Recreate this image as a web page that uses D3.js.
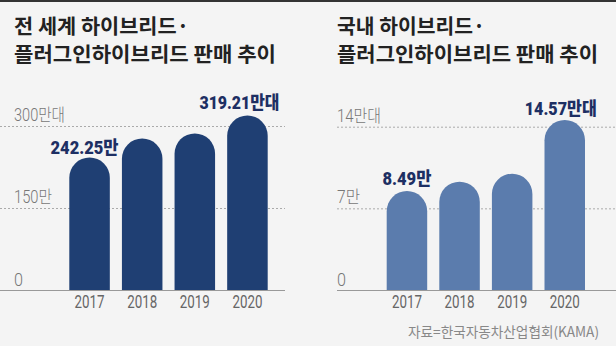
<!DOCTYPE html>
<html><head><meta charset="utf-8">
<script src="https://cdn.jsdelivr.net/npm/d3@7"></script>
<style>body{margin:0;background:#f4f4f4;}svg{display:block;}</style>
</head><body>
<svg id="c" width="616" height="346"></svg>
<script>
const years = ["2017", "2018", "2019", "2020"];
const worldValues = [242.25, 277, 286.5, 319.21];
const koreaValues = [8.49, 9.29, 9.97, 14.57];
const worldTicks = [0, 150, 300];
const worldTickLabels = ["0", "150만", "300만대"];
const koreaTicks = [0, 7, 14];
const koreaTickLabels = ["0", "7만", "14만대"];
const worldLabels = [{i: 0, text: "242.25만"}, {i: 3, text: "319.21만대"}];
const koreaLabels = [{i: 0, text: "8.49만"}, {i: 3, text: "14.57만대"}];
const titleWorld = ["전 세계 하이브리드·", "플러그인하이브리드 판매 추이"];
const titleKorea = ["국내 하이브리드·", "플러그인하이브리드 판매 추이"];
const source = "자료=한국자동차산업협회(KAMA)";

const svg = d3.select("#c");
svg.append("rect").attr("width", 616).attr("height", 346).attr("fill", "#f4f4f4");
svg.append("rect").attr("width", 616).attr("height", 2).attr("fill", "#333");

const KR = "'Noto Sans CJK KR', sans-serif";
const NUM = "Roboto, 'Noto Sans CJK KR', sans-serif";

function panel(cfg) {
  const g = svg.append("g");
  const y = d3.scaleLinear().domain(cfg.domain).range([290, cfg.topY]);
  const x = d3.scaleBand().domain(years).range(cfg.xr).paddingInner(0.23).paddingOuter(0);
  cfg.title.forEach((t, i) => {
    g.append("text").attr("x", cfg.tx).attr("y", 34 + i * 28)
      .attr("font-family", KR).attr("font-weight", 700).attr("font-size", 20.5)
      .attr("fill", "#222").attr("textLength", cfg.titleLen[i]).attr("lengthAdjust", "spacingAndGlyphs")
      .text(t);
  });
  cfg.ticks.forEach((v, i) => {
    if (v > 0) {
      g.append("line").attr("x1", cfg.gx[0]).attr("x2", cfg.gx[1])
        .attr("y1", y(v) + 0.5).attr("y2", y(v) + 0.5)
        .attr("stroke", "#aaa").attr("stroke-dasharray", "2,2").attr("stroke-width", 1);
    }
    g.append("text").attr("x", cfg.tx).attr("y", v > 0 ? y(v) - 5 : y(v) - 4)
      .attr("font-family", NUM).attr("font-weight", 300).attr("font-size", 17.5).attr("fill", "#777")
      .attr("textLength", cfg.tickLen[i]).attr("lengthAdjust", "spacingAndGlyphs")
      .text(cfg.tickLabels[i]);
  });
  const bw = x.bandwidth(), r = bw / 2;
  g.selectAll("path.bar").data(cfg.values).join("path").attr("class", "bar")
    .attr("fill", cfg.color)
    .attr("d", (d, i) => {
      const x0 = x(years[i]), top = y(d), base = y(0);
      return `M${x0},${base}V${top + r}A${r},${r} 0 0 1 ${x0 + bw},${top + r}V${base}Z`;
    });
  g.append("line").attr("x1", cfg.gx[0]).attr("x2", cfg.gx[1]).attr("y1", 290.5).attr("y2", 290.5)
    .attr("stroke", "#999").attr("stroke-width", 1);
  years.forEach((yr) => {
    g.append("text").attr("x", x(yr) + bw / 2).attr("y", 308).attr("text-anchor", "middle")
      .attr("font-family", NUM).attr("font-size", 18.5).attr("fill", "#666")
      .attr("textLength", 30).attr("lengthAdjust", "spacingAndGlyphs").text(yr);
  });
  cfg.labels.forEach((l, k) => {
    g.append("text").attr("x", x(years[l.i]) + bw / 2 + cfg.labelDx[k]).attr("y", y(cfg.values[l.i]) - cfg.labelGap[k])
      .attr("text-anchor", "middle").attr("font-family", NUM).attr("font-weight", 900)
      .attr("font-size", 18).attr("fill", "#1d2f63")
      .attr("textLength", cfg.labelLen[k]).attr("lengthAdjust", "spacingAndGlyphs").text(l.text);
  });
}

panel({
  domain: [0, 300], topY: 126, xr: [69.3, 267.7], tx: 14, gx: [0, 285],
  title: titleWorld, titleLen: [175, 262],
  ticks: worldTicks, tickLabels: worldTickLabels, tickLen: [9, 38, 51],
  values: worldValues, color: "#1f3f73",
  labels: worldLabels, labelLen: [68, 80], labelDx: [-5, -8], labelGap: [4, 6]
});
panel({
  domain: [0, 14], topY: 126.7, xr: [386.7, 585], tx: 337, gx: [337, 616],
  title: titleKorea, titleLen: [148, 261],
  ticks: koreaTicks, tickLabels: koreaTickLabels, tickLen: [9, 23, 44],
  values: koreaValues, color: "#5b7cad",
  labels: koreaLabels, labelLen: [49, 72], labelDx: [0, -4], labelGap: [6, 5]
});

svg.append("text").attr("x", 599).attr("y", 337).attr("text-anchor", "end")
  .attr("font-family", KR).attr("font-size", 14).attr("fill", "#888")
  .attr("textLength", 191).attr("lengthAdjust", "spacingAndGlyphs").text(source);
</script>
</body></html>
